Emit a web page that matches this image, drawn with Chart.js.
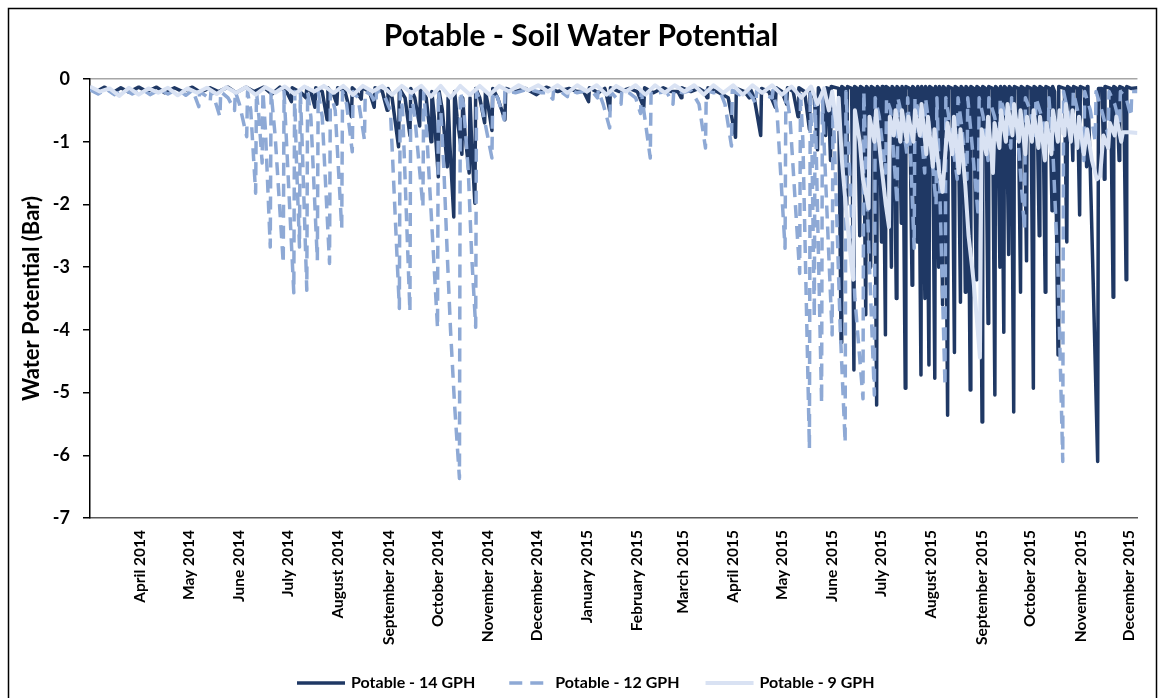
<!DOCTYPE html>
<html>
<head>
<meta charset="utf-8">
<script src="https://cdn.jsdelivr.net/npm/chart.js@4.4.1/dist/chart.umd.min.js"></script>
<style>
  body { margin: 0; background: #fff; }
  canvas { display: block; }
</style>
</head>
<body>
<canvas id="swp" width="1160" height="698"></canvas>
<script>
// x = days since 1 March 2014, y = water potential (bar)
const monthDays = [31, 61, 92, 122, 153, 184, 214, 245, 275, 306, 337, 365, 396, 426, 457, 487, 518, 549, 579, 610, 640]
const monthLabels = ['April 2014', 'May 2014', 'June 2014', 'July 2014', 'August 2014', 'September 2014',
  'October 2014', 'November 2014', 'December 2014', 'January 2015', 'February 2015', 'March 2015',
  'April 2015', 'May 2015', 'June 2015', 'July 2015', 'August 2015', 'September 2015', 'October 2015',
  'November 2015', 'December 2015']
const yTicks = [0, -1, -2, -3, -4, -5, -6, -7]
const seriesNames = ['Potable - 14 GPH', 'Potable - 12 GPH', 'Potable - 9 GPH']

const gph14 = [
  [0,-0.14],[4,-0.2],[9,-0.13],[14,-0.22],[19,-0.14],[24,-0.21],[30,-0.13],[35,-0.2],[41,-0.13],[46,-0.22],
  [52,-0.14],[57,-0.2],[63,-0.13],[68,-0.21],[74,-0.14],[79,-0.2],[85,-0.13],[90,-0.22],[96,-0.13],[101,-0.2],
  [107,-0.13],[112,-0.24],[117,-0.13],[121,-0.2],[124,-0.36],[124.5,-0.14],[130,-0.22],[133,-0.3],[133.5,-0.14],
  [136,-0.2],[138.5,-0.45],[139,-0.14],[143,-0.2],[146,-0.65],[146.5,-0.14],[150,-0.25],[152,-0.4],[152.5,-0.14],
  [157,-0.2],[161,-0.6],[161.5,-0.14],[164,-0.2],[167,-0.32],[167.5,-0.14],[172,-0.2],[175,-0.45],[175.5,-0.14],
  [180,-0.2],[183,-0.5],[183.5,-0.15],[186,-0.3],[190,-1.08],[190.5,-0.15],[194,-0.3],[197,-0.9],[197.5,-0.15],
  [200,-0.3],[203,-0.75],[203.5,-0.15],[207,-0.3],[210,-1.0],[210.5,-0.2],[212,-0.6],[214.5,-1.56],[215,-0.2],
  [217,-0.5],[220,-1.4],[220.5,-0.3],[221.5,-1.0],[224,-2.2],[224.5,-0.2],[226,-0.6],[229,-1.2],[229.5,-0.3],
  [231,-0.9],[233.5,-1.5],[234,-0.3],[235,-1.0],[237,-1.98],[237.5,-0.15],[240,-0.3],[243,-0.7],[243.5,-0.2],
  [245,-0.4],[247.5,-0.82],[248,-0.15],[251,-0.3],[255.5,-0.65],[256,-0.15],[262,-0.2],[268,-0.15],[275,-0.25],
  [281,-0.13],[288,-0.2],[295,-0.15],[300,-0.2],[304,-0.2],[307,-0.36],[307.5,-0.14],[313,-0.22],[317,-0.15],
  [318,-0.25],[320,-0.5],[320.5,-0.14],[326,-0.2],[332,-0.15],[337,-0.2],[341,-0.45],[341.5,-0.14],[347,-0.22],
  [353,-0.14],[358,-0.2],[362,-0.2],[364,-0.3],[364.5,-0.14],[370,-0.2],[375,-0.15],[378,-0.2],[380,-0.3],
  [380.5,-0.14],[386,-0.2],[393,-0.3],[397.5,-0.93],[398,-0.15],[403,-0.2],[406,-0.3],[406.5,-0.15],[409,-0.3],
  [413,-0.9],[413.5,-0.15],[418,-0.2],[422,-0.45],[422.5,-0.14],[426,-0.2],[429,-0.4],[429.5,-0.14],[433,-0.2],
  [436,-0.6],[436.5,-0.14],[440,-0.2],[443,-0.8],[443.5,-0.14],[446,-0.3],[448,-1.13],[448.5,-0.14],[451,-0.3],
  [453,-0.9],[453.5,-0.14],
  [454.5,-0.15],[456,-1.3],[456.4,-0.12],[461,-0.15],[462.5,-4.2],[462.9,-0.12],[464.5,-0.15],[466,-2.0],[466.4,-0.12],
  [469,-0.15],[470.4,-4.64],[470.8,-0.12],[472.5,-0.15],[474,-2.5],[474.4,-0.12],[476.2,-0.15],[477.7,-3.76],[478.1,-0.12],
  [479.2,-0.15],[480.7,-3.0],[481.1,-0.12],[482.9,-0.15],[484.4,-5.2],[484.8,-0.12],[485.9,-0.15],[487.4,-2.6],[487.8,-0.12],
  [488.3,-0.15],[489.8,-4.08],[490.2,-0.12],[492,-0.15],[493.5,-3.0],[493.9,-0.12],[495,-0.15],[496.5,-3.5],[496.9,-0.12],
  [498.1,-0.15],[499.6,-2.3],[500,-0.12],[500.5,-0.15],[502,-4.93],[502.4,-0.12],[504.7,-0.15],[506.2,-3.29],[506.6,-0.12],
  [507.8,-0.15],[509.3,-2.6],[509.7,-0.12],[510.2,-0.15],[511.7,-4.72],[512.1,-0.12],[512.6,-0.15],[514.1,-3.5],[514.5,-0.12],
  [515.1,-0.15],[516.6,-4.56],[517,-0.12],[518.7,-0.15],[520.2,-4.77],[520.6,-0.12],[521.1,-0.15],[522.6,-3.0],[523,-0.12],
  [523.5,-0.15],[525,-3.6],[525.4,-0.12],[526.6,-0.15],[528.1,-5.36],[528.5,-0.12],[530.8,-0.15],[532.3,-4.36],[532.7,-0.12],
  [534.5,-0.15],[536,-3.56],[536.4,-0.12],[537.5,-0.15],[539,-3.4],[539.4,-0.12],[540.5,-0.15],[542,-4.96],[542.4,-0.12],
  [544.2,-0.15],[545.7,-3.2],[546.1,-0.12],[547.8,-0.15],[549.3,-5.47],[549.7,-0.12],[551.5,-0.15],[553,-3.9],[553.4,-0.12],
  [555.7,-0.15],[557.2,-5.04],[557.6,-0.12],[558.8,-0.15],[560.3,-3.0],[560.7,-0.12],[561.2,-0.15],[562.7,-4.04],[563.1,-0.12],
  [564.2,-0.15],[565.7,-2.8],[566.1,-0.12],[567.3,-0.15],[568.8,-5.31],[569.2,-0.12],[571.5,-0.15],[573,-3.4],[573.4,-0.12],
  [575.2,-0.15],[576.7,-2.9],[577.1,-0.12],[579.4,-0.15],[580.9,-4.93],[581.3,-0.12],[583,-0.15],[584.5,-2.5],[584.9,-0.12],
  [586.7,-0.15],[588.2,-3.4],[588.6,-0.12],[590.9,-0.15],[592.4,-2.1],[592.8,-0.12],[594,-0.2],[595,-2.0],[596.1,-4.4],
  [596.5,-0.12],[600,-0.15],[601.5,-2.6],[601.9,-0.12],[603.7,-0.15],[605.2,-1.3],[605.6,-0.12],[607.9,-0.15],[609.4,-2.17],
  [609.8,-0.12],[612.2,-0.15],[613.7,-1.4],[614.1,-0.12],[614.5,-0.2],[616,-1.5],[618,-3.5],[620.5,-6.1],[621,-0.15],
  [623.1,-0.15],[624.6,-1.6],[625,-0.12],[628.5,-0.15],[630,-3.48],[630.4,-0.12],[632.2,-0.15],[633.7,-1.3],[634.1,-0.12],
  [636.5,-0.15],[638,-3.2],[638.4,-0.12],[641,-0.15],[645,-0.14]
]

const gph12 = [
  [0,-0.17],[5,-0.24],[10,-0.16],[15,-0.25],[21,-0.17],[26,-0.24],[32,-0.16],[37,-0.25],[43,-0.17],[48,-0.24],
  [54,-0.16],[59,-0.26],[63,-0.18],[65,-0.3],[67,-0.44],[67.5,-0.2],[72,-0.28],[74,-0.36],[74.5,-0.2],[77,-0.35],
  [80,-0.6],[80.5,-0.2],[85,-0.3],[89,-0.5],[89.5,-0.2],[92,-0.4],[96.5,-0.92],[97,-0.2],[99,-0.5],[102,-1.82],
  [102.5,-0.2],[104,-0.6],[106,-1.34],[106.5,-0.2],[108,-0.8],[111,-2.68],[111.5,-0.2],[114,-0.9],[119,-2.94],
  [119.5,-0.2],[121,-1.0],[125.5,-3.41],[126,-0.2],[127,-1.2],[129,-2.68],[129.5,-0.2],[130.5,-0.9],[133.5,-3.37],
  [134,-0.2],[136,-0.6],[140,-2.89],[140.5,-0.2],[143,-0.6],[147.5,-2.94],[148,-0.2],[151,-0.5],[155,-2.38],
  [155.5,-0.2],[158,-0.4],[161.5,-1.16],[162,-0.2],[165,-0.3],[169,-0.97],[169.5,-0.2],[173,-0.25],[176,-0.4],
  [176.5,-0.18],[181,-0.25],[185,-0.5],[190.5,-3.66],[191,-0.2],[192.5,-0.5],[197,-3.71],[197.5,-0.2],[200,-0.6],
  [205,-2.04],[205.5,-0.2],[207,-0.7],[214,-3.97],[214.5,-0.2],[216,-0.5],[218,-1.5],[220,-2.8],[222,-4.0],
  [224.5,-5.2],[227.5,-6.37],[228,-0.2],[230,-0.4],[233,-1.5],[235,-2.8],[237.5,-3.96],[238,-0.2],[241,-0.4],
  [244,-0.8],[247.5,-1.26],[248,-0.2],[251,-0.3],[255,-0.65],[255.5,-0.18],[262,-0.22],[270,-0.16],[278,-0.22],
  [282,-0.22],[285,-0.32],[285.5,-0.17],[290,-0.2],[294,-0.28],[294.5,-0.16],[300,-0.22],[306,-0.18],[310,-0.22],
  [312.5,-0.3],[313,-0.18],[316,-0.4],[320,-0.78],[320.5,-0.2],[324,-0.3],[327,-0.4],[327.5,-0.18],[332,-0.22],
  [336,-0.3],[339,-0.55],[339.5,-0.2],[341,-0.5],[345,-1.26],[345.5,-0.2],[350,-0.22],[355,-0.2],[357,-0.3],
  [359,-0.4],[359.5,-0.18],[365,-0.22],[370,-0.18],[375,-0.4],[379,-1.1],[379.5,-0.18],[384,-0.22],[388,-0.2],
  [391,-0.4],[395,-1.07],[395.5,-0.18],[400,-0.25],[405,-0.2],[408,-0.3],[410,-0.4],[410.5,-0.18],[415,-0.25],
  [420,-0.3],[420.5,-0.18],[423,-0.5],[428,-2.7],[428.5,-0.2],[431,-0.6],[437,-3.1],[437.5,-0.2],[439,-1.0],
  [443,-5.9],[443.5,-0.2],[444.5,-1.0],[446,-3.8],[446.5,-0.3],[447.5,-1.5],[450.5,-5.17],[451,-0.2],[452,-1.0],
  [457,-4.08],[457.5,-0.3],[459,-1.5],[462,-4.0],[465,-5.8],[465.5,-0.2],[467,-1.0],[471,-3.5],[476,-5.1],
  [476.5,-0.2],[478,-1.5],[480,-3.0],[483,-5.04],[483.5,-0.3],[486,-0.6],[490,-1.5],[490.5,-0.3],[493,-0.5],
  [497,-2.0],[497.5,-0.3],[500,-0.6],[503,-1.2],[503.5,-0.3],[505,-1.0],[507.5,-2.7],[508,-0.3],[511,-0.6],
  [514,-1.5],[514.5,-0.3],[517,-0.8],[521,-2.0],[521.5,-0.3],[523,-1.5],[526.5,-4.9],[527,-0.3],[530,-0.8],
  [534,-1.6],[534.5,-0.3],[537,-0.8],[540,-1.6],[540.5,-0.3],[543,-1.0],[547,-2.2],[547.5,-0.3],[550,-0.6],
  [553,-1.3],[553.5,-0.3],[557,-0.6],[560,-1.0],[560.5,-0.3],[564,-0.6],[567,-1.1],[567.5,-0.3],[571,-0.8],
  [575.5,-2.4],[576,-0.3],[579,-0.5],[582,-0.9],[582.5,-0.3],[586,-0.6],[590,-1.0],[590.5,-0.3],[593,-1.2],
  [596,-3.0],[599,-6.1],[599.5,-0.2],[602,-0.5],[605,-0.8],[605.5,-0.2],[609,-0.6],[612,-1.3],[612.5,-0.2],
  [616,-0.5],[619,-1.0],[619.5,-0.2],[623,-0.5],[627,-0.9],[627.5,-0.2],[631,-0.4],[634,-0.7],[634.5,-0.2],
  [638,-0.3],[641,-0.6],[641.5,-0.2],[645,-0.2]
]

const gph9 = [
  [0,-0.12],[6,-0.2],[12,-0.15],[18,-0.27],[24,-0.14],[30,-0.25],[36,-0.15],[42,-0.22],[48,-0.14],[54,-0.26],
  [60,-0.15],[66,-0.22],[72,-0.14],[78,-0.24],[84,-0.13],[90,-0.22],[96,-0.13],[102,-0.25],[108,-0.13],[114,-0.22],
  [120,-0.12],[126,-0.24],[132,-0.12],[138,-0.2],[144,-0.11],[150,-0.22],[156,-0.11],[162,-0.25],[168,-0.11],[174,-0.2],
  [180,-0.11],[186,-0.25],[192,-0.11],[198,-0.22],[204,-0.11],[210,-0.28],[216,-0.11],[222,-0.3],[228,-0.11],[234,-0.25],
  [240,-0.11],[246,-0.25],[252,-0.11],[258,-0.2],[264,-0.1],[270,-0.18],[276,-0.1],[282,-0.2],[288,-0.1],[294,-0.22],
  [300,-0.1],[306,-0.2],[312,-0.1],[318,-0.25],[324,-0.11],[330,-0.2],[336,-0.1],[342,-0.25],[348,-0.1],[354,-0.22],
  [360,-0.1],[366,-0.2],[372,-0.1],[378,-0.25],[384,-0.1],[390,-0.22],[396,-0.1],[402,-0.25],[408,-0.1],[414,-0.22],
  [420,-0.1],[426,-0.25],[432,-0.12],[438,-0.3],[444,-0.12],[448,-0.4],[452,-0.15],[455,-0.5],[457,-0.2],[460,-0.8],
  [461,-0.3],[463,-1.3],[466,-2.2],[469,-3.0],[470,-3.2],[471,-0.5],[474,-1.0],[476,-1.6],[479.5,-2.06],[480,-0.6],
  [483,-1.0],[484,-0.5],[487,-1.3],[490,-2.0],[492,-2.36],[492.5,-0.6],[495,-0.9],[496,-0.5],[499,-1.0],[500,-0.5],
  [503,-1.0],[504,-0.6],[507,-1.0],[508,-0.5],[511,-0.9],[512,-0.4],[515,-1.2],[516,-0.6],[519,-1.4],[520,-0.8],
  [523,-1.5],[525,-1.8],[528,-0.7],[531,-1.2],[532,-0.6],[535,-1.5],[536,-0.8],[539,-1.7],[541,-2.5],[544,-3.2],
  [546,-3.8],[548,-4.44],[549,-0.8],[552,-1.2],[553,-0.6],[556,-1.5],[557,-0.7],[560,-1.1],[561,-0.5],[564,-1.0],
  [565,-0.4],[568,-0.9],[569,-0.4],[572,-1.0],[573,-0.5],[576,-1.2],[577,-0.6],[580,-1.0],[581,-0.5],[584,-1.1],
  [585,-0.6],[588,-1.3],[589,-0.7],[592,-1.2],[593,-0.5],[596,-1.0],[597,-0.5],[600,-0.9],[601,-0.4],[604,-1.0],
  [605,-0.5],[608,-1.1],[609,-0.6],[612,-1.2],[614,-0.8],[617,-1.3],[620,-1.6],[622,-1.55],[624,-0.9],[627,-1.1],
  [628,-0.7],[631,-0.9],[632,-0.6],[635,-1.0],[636,-0.85],[640,-0.85],[645,-0.86]
]

const toXY = pts => pts.map(p => ({ x: p[0], y: p[1] }))

// outer frame + legend drawn at the bottom, styled from the datasets
const framePlugin = {
  id: 'frame',
  afterDraw(chart) {
    const ctx = chart.ctx
    ctx.save()
    ctx.strokeStyle = '#000'
    ctx.lineWidth = 1.5
    ctx.strokeRect(8.5, 8.5, 1148, 720)

    ctx.font = 'bold 16px Lato'
    ctx.textBaseline = 'middle'
    ctx.textAlign = 'left'
    const sample = 48, gap = 6, spacing = 26, y = 683
    const sets = chart.data.datasets
    const widths = sets.map(ds => ctx.measureText(ds.label).width)
    const total = widths.reduce((a, b) => a + b, 0) + sets.length * (sample + gap) + (sets.length - 1) * spacing
    let x = Math.round(586 - total / 2)
    sets.forEach((ds, i) => {
      ctx.beginPath()
      ctx.strokeStyle = ds.borderColor
      ctx.lineWidth = ds.borderWidth
      ctx.setLineDash(ds.borderDash || [])
      ctx.lineDashOffset = ds.borderDash ? 13 : 0
      ctx.moveTo(x, y)
      ctx.lineTo(x + sample, y)
      ctx.stroke()
      ctx.setLineDash([])
      ctx.fillStyle = '#000'
      ctx.fillText(ds.label, x + sample + gap, y)
      x += sample + gap + widths[i] + spacing
    })
    ctx.restore()
  }
}

new Chart(document.getElementById('swp'), {
  type: 'line',
  data: {
    datasets: [
      {
        label: seriesNames[0],
        data: toXY(gph14),
        borderColor: '#1F3864',
        backgroundColor: '#1F3864',
        borderWidth: 3.5,
        order: 3
      },
      {
        label: seriesNames[1],
        data: toXY(gph12),
        borderColor: '#8EA9D5',
        backgroundColor: '#8EA9D5',
        borderWidth: 3.5,
        borderDash: [13, 8],
        order: 2
      },
      {
        label: seriesNames[2],
        data: toXY(gph9),
        borderColor: '#D9E2F3',
        backgroundColor: '#D9E2F3',
        borderWidth: 4,
        order: 1
      }
    ]
  },
  options: {
    responsive: false,
    animation: false,
    layout: { padding: { left: 10, right: 8, top: 0, bottom: 30 } },
    elements: {
      point: { radius: 0 },
      line: { tension: 0, borderJoinStyle: 'round', fill: false }
    },
    plugins: {
      tooltip: { enabled: false },
      legend: { display: false },
      title: {
        display: true,
        text: 'Potable - Soil Water Potential',
        color: '#000',
        font: { family: 'Lato', size: 30, weight: 'bold' },
        padding: { top: 18, bottom: 25 }
      }
    },
    scales: {
      x: {
        type: 'linear',
        min: 0,
        max: 645,
        afterBuildTicks: axis => { axis.ticks = monthDays.map(v => ({ value: v })) },
        afterFit: axis => { axis.height = 150 },
        grid: { display: true, drawOnChartArea: false, drawTicks: false },
        border: { display: true, color: '#595959', width: 1.5 },
        ticks: {
          autoSkip: false,
          minRotation: 90,
          maxRotation: 90,
          padding: 12,
          color: '#000',
          font: { family: 'Lato', size: 15.5, weight: 'bold' },
          callback: (v, i) => monthLabels[i]
        }
      },
      y: {
        min: -7,
        max: 0,
        afterBuildTicks: axis => { axis.ticks = yTicks.map(v => ({ value: v })) },
        afterFit: axis => { axis.width = 80 },
        grid: {
          color: c => (c.tick && c.tick.value === 0 ? '#A6A6A6' : 'rgba(0,0,0,0)'),
          tickColor: '#000',
          tickLength: 7,
          lineWidth: 1.5
        },
        border: { display: true, color: '#000', width: 1.5 },
        title: {
          display: true,
          text: 'Water Potential (Bar)',
          color: '#000',
          font: { family: 'Lato', size: 22, weight: 'bold' },
          padding: { top: 9, bottom: 0 }
        },
        ticks: {
          padding: 13,
          color: '#000',
          font: { family: 'Lato', size: 18, weight: 'bold' },
          callback: v => String(v)
        }
      }
    }
  },
  plugins: [framePlugin]
})
</script>
</body>
</html>
